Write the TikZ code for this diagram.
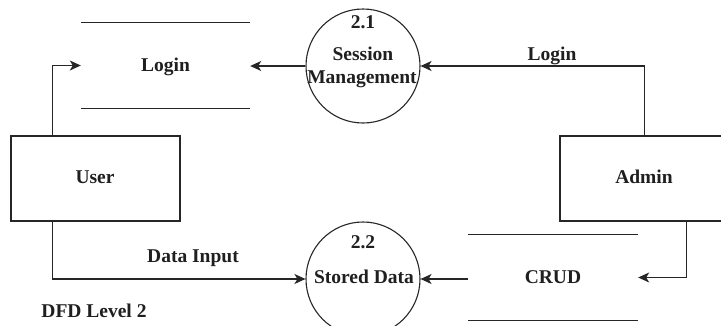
\documentclass[tikz,border=0pt]{standalone}
\usepackage{fontspec}
\setmainfont{Liberation Serif}
\usetikzlibrary{arrows.meta}
\begin{document}
\begin{tikzpicture}[x=1pt,y=-1pt,
  every node/.style={font=\fontsize{19.5}{21}\selectfont\bfseries, text=black!88, inner sep=0pt},
  ln/.style={draw=black!85, line width=1.1pt},
  arr/.style={ln, -{Stealth[length=11pt,width=10pt,inset=3pt]}},
  entity/.style={ln, rectangle, minimum width=169pt, minimum height=85pt},
  process/.style={ln, circle, minimum size=114pt},
  storebox/.style={rectangle, minimum height=85pt},
  lbl/.style={anchor=base}]
\useasboundingbox (0,0) rectangle (721,325);

% data stores (top and bottom rules only)
\node[storebox, minimum width=169pt] (loginstore) at (165.5,65.5) {};
\draw[ln] (loginstore.north west) -- (loginstore.north east)
          (loginstore.south west) -- (loginstore.south east);
\node[lbl] (logintxt) at (165.5,71) {Login};

\node[storebox, minimum width=170pt] (crud) at (553,277.5) {};
\draw[ln] (crud.north west) -- (crud.north east)
          (crud.south west) -- (crud.south east);
\node[lbl] (crudtxt) at (553,283) {CRUD};

% processes
\node[process] (p21) at (363,66) {};
\node[lbl] (p21num) at (363,28) {2.1};
\node[lbl] (p21a) at (363,60) {Session};
\node[lbl] (p21b) at (362,83) {Management};

\node[process] (p22) at (363,279) {};
\node[lbl] (p22num) at (363,248) {2.2};
\node[lbl] (p22a) at (364,283) {Stored Data};

% external entities
\node[entity] (user) at (95.5,178.5) {};
\node[lbl] (usertxt) at (95,183) {User};
\node[entity] (admin) at (644.5,178.5) {};
\node[lbl] (admintxt) at (644,183) {Admin};

% data flows
\draw[arr] ([xshift=42pt]user.north west) |- (loginstore.west);
\draw[arr] (p21.west) -- (p21.west -| loginstore.east);
\draw[arr] (admin.north) |- (p21.east);
\node[lbl] (flowlogin) at (552,60) {Login};

\draw[arr] ([xshift=42pt]user.south west) |- (p22.west);
\node[lbl] (flowdata) at (193,262) {Data Input};

\draw[arr] ([xshift=127pt]admin.south west) |- (crud.east);
\draw[arr] (crud.west |- p22.east) -- (p22.east);

\node[lbl] (title) at (94,317) {DFD Level 2};
\end{tikzpicture}
\end{document}
